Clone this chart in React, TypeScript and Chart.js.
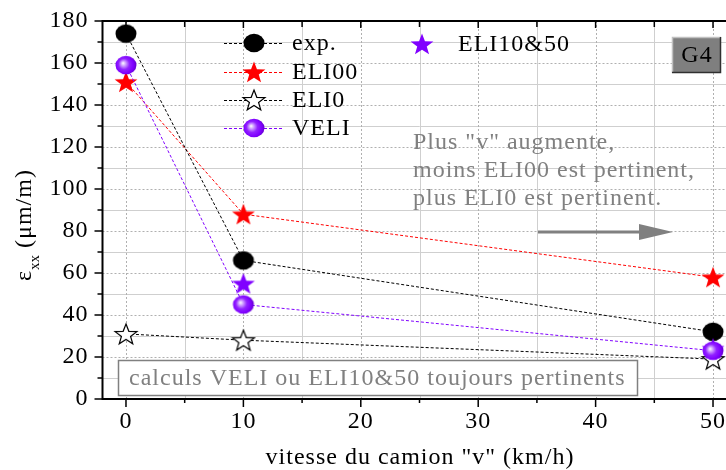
import React, { useEffect, useRef } from 'react';
import { Chart, registerables } from 'chart.js';

Chart.register(...registerables);

// ---------------- data ----------------
const speeds = [0, 10, 50];
const expValues = [174, 66, 32];
const eli00Values = [151, 88, 58];
const eli0Values = [31, 28, 19];
const veliValues = [159, 45, 23];
const eli1050Speeds = [10, 50];
const eli1050Values = [55, 24];

const xTickValues = [0, 10, 20, 30, 40, 50];
const xMinorValues = [5, 15, 25, 35, 45];
const yTickValues = [0, 20, 40, 60, 80, 100, 120, 140, 160, 180];
const yMinorValues = [10, 30, 50, 70, 90, 110, 130, 150, 170];

const seriesLabels = ['exp.', 'ELI00', 'ELI0', 'VELI', 'ELI10&50'];
const xTitle = 'vitesse du camion "v" (km/h)';
const noteLines = ['Plus "v" augmente,', 'moins ELI00 est pertinent,', 'plus ELI0 est pertinent.'];
const boxNote = 'calculs VELI ou ELI10&50 toujours pertinents';
const tagText = 'G4';

const FONT = '"Liberation Serif", "Times New Roman", serif';
const PURPLE = '#8000ff';
const GRAY = '#808080';

// ---------------- marker images ----------------
function makeCanvas(w: number, h: number, draw: (g: CanvasRenderingContext2D, cx: number, cy: number) => void) {
  const c = document.createElement('canvas');
  c.width = w;
  c.height = h;
  const g = c.getContext('2d')!;
  draw(g, w / 2, h / 2);
  return c;
}

function starPath(g: CanvasRenderingContext2D, cx: number, cy: number, R: number, r: number) {
  g.beginPath();
  for (let i = 0; i < 10; i++) {
    const rad = i % 2 === 0 ? R : r;
    const a = -Math.PI / 2 + (i * Math.PI) / 5;
    const px = cx + rad * Math.cos(a);
    const py = cy + rad * Math.sin(a) * 0.95;
    if (i === 0) g.moveTo(px, py);
    else g.lineTo(px, py);
  }
  g.closePath();
}

function buildMarkers() {
  const blackDot = makeCanvas(24, 22, (g, cx, cy) => {
    g.beginPath();
    g.ellipse(cx, cy, 10.5, 9.3, 0, 0, Math.PI * 2);
    g.fillStyle = '#000';
    g.fill();
  });
  const redStar = makeCanvas(26, 24, (g, cx, cy) => {
    starPath(g, cx, cy + 1, 12, 5);
    g.fillStyle = '#ff0000';
    g.fill();
  });
  const hollowStar = makeCanvas(26, 24, (g, cx, cy) => {
    starPath(g, cx, cy + 1, 11.5, 4.8);
    g.fillStyle = '#ffffff';
    g.fill();
    g.lineWidth = 1.2;
    g.strokeStyle = '#000';
    g.stroke();
  });
  const sphere = makeCanvas(24, 22, (g, cx, cy) => {
    const grad = g.createRadialGradient(cx - 3, cy - 2, 0, cx - 1, cy, 11);
    grad.addColorStop(0, '#ffffff');
    grad.addColorStop(0.2, '#d2a6ff');
    grad.addColorStop(0.5, '#9222ff');
    grad.addColorStop(0.8, '#7f00ff');
    grad.addColorStop(1, '#6a00d6');
    g.beginPath();
    g.ellipse(cx, cy, 10.5, 9.3, 0, 0, Math.PI * 2);
    g.fillStyle = grad;
    g.fill();
  });
  const purpleStar = makeCanvas(26, 24, (g, cx, cy) => {
    starPath(g, cx, cy + 1, 12, 5);
    g.fillStyle = PURPLE;
    g.fill();
  });
  return { blackDot, redStar, hollowStar, sphere, purpleStar };
}

// ---------------- decoration plugin ----------------
const decorPlugin = {
  id: 'decor',
  beforeDraw(chart: any) {
    chart.ctx.letterSpacing = '1px';
  },
  beforeDatasetsDraw(chart: any) {
    const { ctx, chartArea: a, scales } = chart;
    const xs = scales.x;
    const ys = scales.y;
    ctx.save();
    ctx.lineWidth = 1;
    // minor grid (solid light)
    ctx.strokeStyle = '#cfcfcf';
    ctx.setLineDash([]);
    xMinorValues.forEach((v) => {
      const p = Math.round(xs.getPixelForValue(v)) + 0.5;
      ctx.beginPath();
      ctx.moveTo(p, a.top);
      ctx.lineTo(p, a.bottom);
      ctx.stroke();
    });
    yMinorValues.forEach((v) => {
      const p = Math.round(ys.getPixelForValue(v)) + 0.5;
      ctx.beginPath();
      ctx.moveTo(a.left, p);
      ctx.lineTo(a.right, p);
      ctx.stroke();
    });
    // major grid (dotted)
    ctx.strokeStyle = '#b0b0b0';
    ctx.setLineDash([2, 2]);
    xTickValues.forEach((v) => {
      const p = Math.round(xs.getPixelForValue(v)) + 0.5;
      ctx.beginPath();
      ctx.moveTo(p, a.top);
      ctx.lineTo(p, a.bottom);
      ctx.stroke();
    });
    yTickValues.forEach((v) => {
      if (v === 0 || v === 180) return;
      const p = Math.round(ys.getPixelForValue(v)) + 0.5;
      ctx.beginPath();
      ctx.moveTo(a.left, p);
      ctx.lineTo(a.right, p);
      ctx.stroke();
    });
    ctx.setLineDash([]);

    // note box at bottom
    ctx.fillStyle = '#ffffff';
    ctx.fillRect(118, 360, 519, 35);
    ctx.strokeStyle = GRAY;
    ctx.lineWidth = 1.5;
    ctx.strokeRect(118.5, 360.5, 519, 35);
    ctx.fillStyle = GRAY;
    ctx.font = `24px ${FONT}`;
    ctx.textAlign = 'left';
    ctx.textBaseline = 'middle';
    ctx.fillText(boxNote, 129, 379);
    ctx.restore();
  },
  afterDatasetsDraw(chart: any) {
    const { ctx, chartArea: a, scales } = chart;
    const xs = scales.x;
    const ys = scales.y;
    ctx.save();
    ctx.strokeStyle = '#000';
    ctx.lineWidth = 2;
    ctx.setLineDash([]);
    // axes lines
    ctx.beginPath();
    ctx.moveTo(a.left, a.top);
    ctx.lineTo(a.left, a.bottom);
    ctx.moveTo(a.left - 1, a.bottom);
    ctx.lineTo(a.right, a.bottom);
    ctx.moveTo(a.left - 1, a.top);
    ctx.lineTo(a.right, a.top);
    ctx.stroke();
    // ticks
    ctx.lineWidth = 1.5;
    const tickX = (v: number, len: number, topLen: number) => {
      const p = xs.getPixelForValue(v);
      ctx.beginPath();
      ctx.moveTo(p, a.bottom);
      ctx.lineTo(p, a.bottom + len);
      ctx.moveTo(p, a.top);
      ctx.lineTo(p, a.top + topLen);
      ctx.stroke();
    };
    xTickValues.forEach((v) => tickX(v, 8, 7));
    xMinorValues.forEach((v) => tickX(v, 4, 6));
    const tickY = (v: number, len: number) => {
      const p = ys.getPixelForValue(v);
      ctx.beginPath();
      ctx.moveTo(a.left, p);
      ctx.lineTo(a.left - len, p);
      ctx.stroke();
    };
    yTickValues.forEach((v) => tickY(v, 8));
    yMinorValues.forEach((v) => tickY(v, 5));

    // legend
    const datasets = chart.data.datasets;
    const rows = [43, 72, 100, 128];
    ctx.font = `24px ${FONT}`;
    ctx.textBaseline = 'middle';
    ctx.textAlign = 'left';
    for (let i = 0; i < 4; i++) {
      const ds = datasets[i];
      const yy = rows[i] + 0.5;
      ctx.strokeStyle = ds.borderColor;
      ctx.lineWidth = 1;
      ctx.setLineDash(ds.borderDash);
      ctx.beginPath();
      ctx.moveTo(224, yy);
      ctx.lineTo(284, yy);
      ctx.stroke();
      ctx.setLineDash([]);
      const img = ds.pointStyle as HTMLCanvasElement;
      ctx.drawImage(img, 254 - img.width / 2, rows[i] - img.height / 2);
      ctx.fillStyle = '#000';
      ctx.fillText(ds.label, 292, rows[i] + 1);
    }
    const ds5 = datasets[4];
    const img5 = ds5.pointStyle as HTMLCanvasElement;
    ctx.drawImage(img5, 422 - img5.width / 2, 44 - img5.height / 2);
    ctx.fillStyle = '#000';
    ctx.fillText(ds5.label, 458, 45);

    // note text
    ctx.fillStyle = GRAY;
    noteLines.forEach((t, i) => ctx.fillText(t, 413, 143 + i * 28));

    // arrow
    ctx.strokeStyle = GRAY;
    ctx.lineWidth = 3;
    ctx.beginPath();
    ctx.moveTo(538, 232);
    ctx.lineTo(645, 232);
    ctx.stroke();
    ctx.fillStyle = GRAY;
    ctx.beginPath();
    ctx.moveTo(673, 232);
    ctx.lineTo(639, 224);
    ctx.lineTo(639, 240);
    ctx.closePath();
    ctx.fill();

    // G4 tag
    ctx.fillStyle = '#7f7f7f';
    ctx.fillRect(672, 37, 49, 36);
    ctx.strokeStyle = '#c0c0c0';
    ctx.lineWidth = 1.5;
    ctx.beginPath();
    ctx.moveTo(672.5, 73);
    ctx.lineTo(672.5, 37.5);
    ctx.lineTo(721, 37.5);
    ctx.stroke();
    ctx.strokeStyle = '#303030';
    ctx.beginPath();
    ctx.moveTo(720.5, 37);
    ctx.lineTo(720.5, 72.5);
    ctx.lineTo(672, 72.5);
    ctx.stroke();
    ctx.fillStyle = '#000';
    ctx.textAlign = 'center';
    ctx.fillText(tagText, 697, 56);

    // x title
    ctx.textAlign = 'center';
    ctx.fillText(xTitle, 420, 458);

    // y title
    ctx.save();
    ctx.translate(31, 281);
    ctx.rotate(-Math.PI / 2);
    ctx.textAlign = 'left';
    ctx.textBaseline = 'alphabetic';
    ctx.font = `24px ${FONT}`;
    ctx.fillText('ε', 0, 0);
    let w = ctx.measureText('ε').width;
    ctx.font = `15px ${FONT}`;
    ctx.letterSpacing = '0px';
    ctx.fillText('xx', w, 8);
    w += ctx.measureText('xx').width;
    ctx.font = `24px ${FONT}`;
    ctx.letterSpacing = '1px';
    ctx.fillText(' (μm/m)', w, 0);
    ctx.restore();

    ctx.restore();
  },
  afterDraw(chart: any) {
    chart.ctx.letterSpacing = '0px';
  },
};

export default function App() {
  const ref = useRef<HTMLCanvasElement | null>(null);

  useEffect(() => {
    if (!ref.current) return;
    const m = buildMarkers();
    const pts = (xs: number[], ys: number[]) => xs.map((x, i) => ({ x, y: ys[i] }));
    const dash = [3, 2];
    const chart = new Chart(ref.current, {
      type: 'line',
      data: {
        datasets: [
          {
            label: seriesLabels[0],
            data: pts(speeds, expValues),
            borderColor: '#000',
            borderWidth: 1,
            borderDash: dash,
            pointStyle: m.blackDot as any,
            pointRadius: 10,
            order: 2,
          },
          {
            label: seriesLabels[1],
            data: pts(speeds, eli00Values),
            borderColor: '#ff0000',
            borderWidth: 1,
            borderDash: dash,
            pointStyle: m.redStar as any,
            pointRadius: 10,
            order: 3,
          },
          {
            label: seriesLabels[2],
            data: pts(speeds, eli0Values),
            borderColor: '#000',
            borderWidth: 1,
            borderDash: dash,
            pointStyle: m.hollowStar as any,
            pointRadius: 10,
            order: 4,
          },
          {
            label: seriesLabels[3],
            data: pts(speeds, veliValues),
            borderColor: PURPLE,
            borderWidth: 1,
            borderDash: dash,
            pointStyle: m.sphere as any,
            pointRadius: 10,
            order: 0,
          },
          {
            label: seriesLabels[4],
            data: pts(eli1050Speeds, eli1050Values),
            borderColor: PURPLE,
            borderWidth: 1,
            borderDash: dash,
            showLine: false,
            pointStyle: m.purpleStar as any,
            pointRadius: 10,
            order: 1,
          },
        ] as any,
      },
      options: {
        responsive: false,
        animation: false,
        devicePixelRatio: 1,
        layout: { padding: { left: 0, top: 21, right: 23.5, bottom: 0 } },
        plugins: { legend: { display: false }, tooltip: { enabled: false } },
        elements: { line: { tension: 0 } },
        scales: {
          x: {
            type: 'linear',
            min: -2,
            max: 52,
            afterBuildTicks: (s: any) => {
              s.ticks = xTickValues.map((v) => ({ value: v }));
            },
            afterFit: (s: any) => {
              s.height = 71;
              s.paddingLeft = 0;
              s.paddingRight = 0;
              s.paddingTop = 0;
              s.paddingBottom = 0;
            },
            ticks: {
              color: '#000',
              font: { family: FONT, size: 24 },
              padding: 8,
              maxRotation: 0,
              autoSkip: false,
            },
            grid: { display: false, drawTicks: false },
            border: { display: false },
          },
          y: {
            type: 'linear',
            min: 0,
            max: 180,
            afterBuildTicks: (s: any) => {
              s.ticks = yTickValues.map((v) => ({ value: v }));
            },
            afterFit: (s: any) => {
              s.width = 102.5;
              s.paddingLeft = 0;
              s.paddingRight = 0;
              s.paddingTop = 0;
              s.paddingBottom = 0;
            },
            ticks: {
              color: '#000',
              font: { family: FONT, size: 24 },
              padding: 14,
              autoSkip: false,
            },
            grid: { display: false, drawTicks: false },
            border: { display: false },
          },
        },
      } as any,
      plugins: [decorPlugin],
    });
    return () => chart.destroy();
  }, []);

  return (
    <div style={{ position: 'fixed', left: 0, top: 0, width: 726, height: 470, overflow: 'hidden', background: '#fff' }}>
      <canvas ref={ref} width={760} height={470} style={{ display: 'block', width: 760, height: 470 }} />
    </div>
  );
}
